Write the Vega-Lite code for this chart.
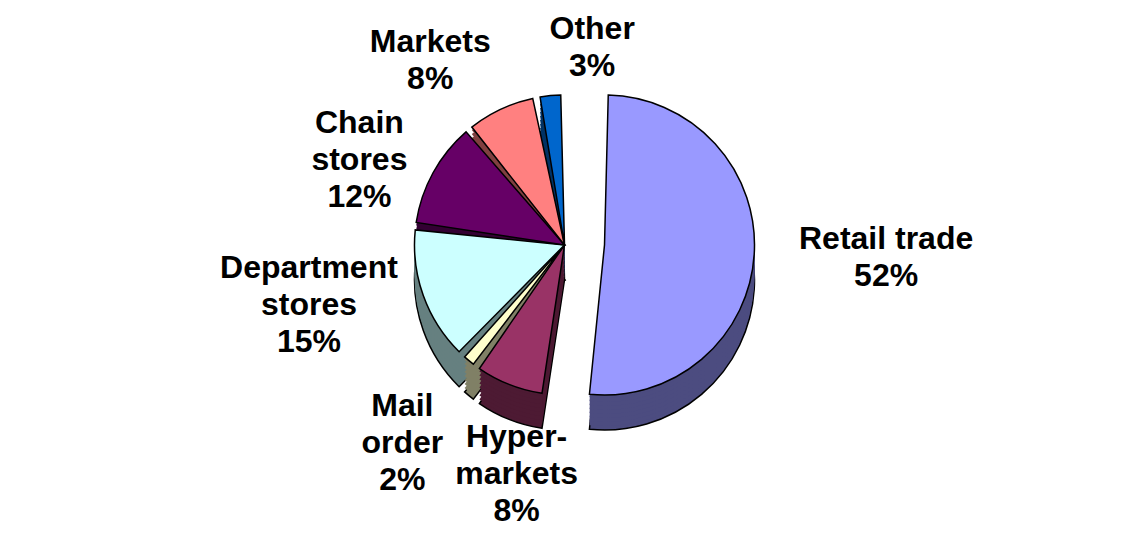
{
  "$schema": "https://vega.github.io/schema/vega-lite/v6.json",
  "width": 1129,
  "height": 550,
  "padding": 0,
  "autosize": {"type": "fit", "contains": "padding"},
  "background": "white",
  "config": {"view": {"stroke": null}},
  "data": {"values": [
    {"category": "Retail trade", "value": 52, "rank": 1, "label": "Retail trade\n52%"},
    {"category": "Hypermarkets", "value": 8, "rank": 2, "label": "Hyper-\nmarkets\n8%"},
    {"category": "Mail order", "value": 2, "rank": 3, "label": "Mail\norder\n2%"},
    {"category": "Department stores", "value": 15, "rank": 4, "label": "Department\nstores\n15%"},
    {"category": "Chain stores", "value": 12, "rank": 5, "label": "Chain\nstores\n12%"},
    {"category": "Markets", "value": 8, "rank": 6, "label": "Markets\n8%"},
    {"category": "Other", "value": 3, "rank": 7, "label": "Other\n3%"}
  ]},
  "encoding": {
    "theta": {"field": "value", "type": "quantitative", "stack": true},
    "order": {"field": "rank", "type": "quantitative"},
    "detail": {"field": "category", "type": "nominal"}
  },
  "layer": [
    {"mark": {"type": "arc", "radius": 150, "padAngle": 0.05, "stroke": "black", "strokeWidth": 1.5, "x": {"expr": "width/2 + (datum.category === 'Retail trade' ? 40 : 0)"}, "y": {"expr": "height/2 - 30 + 35"}},
     "encoding": {"fill": {"field": "category", "type": "nominal", "legend": null, "scale": {"domain": ["Retail trade", "Hypermarkets", "Mail order", "Department stores", "Chain stores", "Markets", "Other"], "range": ["#4C4C80", "#4D1A33", "#808066", "#668080", "#330033", "#804040", "#003366"]}}}},
    {"mark": {"type": "arc", "radius": 150, "padAngle": 0.05, "x": {"expr": "width/2 + (datum.category === 'Retail trade' ? 40 : 0)"}, "y": {"expr": "height/2 - 30 + 31"}},
     "encoding": {"fill": {"field": "category", "type": "nominal", "legend": null}}},
    {"mark": {"type": "arc", "radius": 150, "padAngle": 0.05, "x": {"expr": "width/2 + (datum.category === 'Retail trade' ? 40 : 0)"}, "y": {"expr": "height/2 - 30 + 27"}},
     "encoding": {"fill": {"field": "category", "type": "nominal", "legend": null}}},
    {"mark": {"type": "arc", "radius": 150, "padAngle": 0.05, "x": {"expr": "width/2 + (datum.category === 'Retail trade' ? 40 : 0)"}, "y": {"expr": "height/2 - 30 + 23"}},
     "encoding": {"fill": {"field": "category", "type": "nominal", "legend": null}}},
    {"mark": {"type": "arc", "radius": 150, "padAngle": 0.05, "x": {"expr": "width/2 + (datum.category === 'Retail trade' ? 40 : 0)"}, "y": {"expr": "height/2 - 30 + 19"}},
     "encoding": {"fill": {"field": "category", "type": "nominal", "legend": null}}},
    {"mark": {"type": "arc", "radius": 150, "padAngle": 0.05, "x": {"expr": "width/2 + (datum.category === 'Retail trade' ? 40 : 0)"}, "y": {"expr": "height/2 - 30 + 15"}},
     "encoding": {"fill": {"field": "category", "type": "nominal", "legend": null}}},
    {"mark": {"type": "arc", "radius": 150, "padAngle": 0.05, "x": {"expr": "width/2 + (datum.category === 'Retail trade' ? 40 : 0)"}, "y": {"expr": "height/2 - 30 + 11"}},
     "encoding": {"fill": {"field": "category", "type": "nominal", "legend": null}}},
    {"mark": {"type": "arc", "radius": 150, "padAngle": 0.05, "x": {"expr": "width/2 + (datum.category === 'Retail trade' ? 40 : 0)"}, "y": {"expr": "height/2 - 30 + 7"}},
     "encoding": {"fill": {"field": "category", "type": "nominal", "legend": null}}},
    {"mark": {"type": "arc", "radius": 150, "padAngle": 0.05, "x": {"expr": "width/2 + (datum.category === 'Retail trade' ? 40 : 0)"}, "y": {"expr": "height/2 - 30 + 3"}},
     "encoding": {"fill": {"field": "category", "type": "nominal", "legend": null}}},
    {"mark": {"type": "arc", "radius": 150, "padAngle": 0.05, "stroke": "black", "strokeWidth": 1.5, "x": {"expr": "width/2 + (datum.category === 'Retail trade' ? 40 : 0)"}, "y": {"expr": "height/2 - 30"}},
     "encoding": {"color": {"field": "category", "type": "nominal", "legend": null, "scale": {"domain": ["Retail trade", "Hypermarkets", "Mail order", "Department stores", "Chain stores", "Markets", "Other"], "range": ["#9999FF", "#993366", "#FFFFCC", "#CCFFFF", "#660066", "#FF8080", "#0066CC"]}}}},
    {"mark": {"type": "text", "radius": 195, "dx": 87, "dy": -18, "align": "center", "baseline": "middle", "lineBreak": "\n", "lineHeight": 37, "font": "Liberation Sans", "fontWeight": "bold", "fontSize": 32, "color": "black", "x": {"expr": "width/2 + 40"}, "y": {"expr": "height/2 - 30"}},
     "encoding": {"text": {"condition": {"test": "datum.category === 'Retail trade'", "field": "label"}, "value": ""}}},
    {"mark": {"type": "text", "radius": 163, "dx": 43, "dy": -37, "align": "center", "baseline": "bottom", "lineBreak": "\n", "lineHeight": 37, "font": "Liberation Sans", "fontWeight": "bold", "fontSize": 32, "color": "black", "y": {"expr": "height/2 - 30"}},
     "encoding": {"text": {"condition": {"test": "datum.category === 'Other'", "field": "label"}, "value": ""}}},
    {"mark": {"type": "text", "radius": 165, "dx": -64, "dy": -37, "align": "center", "baseline": "bottom", "lineBreak": "\n", "lineHeight": 37, "font": "Liberation Sans", "fontWeight": "bold", "fontSize": 32, "color": "black", "y": {"expr": "height/2 - 30"}},
     "encoding": {"text": {"condition": {"test": "datum.category === 'Markets'", "field": "label"}, "value": ""}}},
    {"mark": {"type": "text", "radius": 177, "dx": -50, "dy": -37, "align": "center", "baseline": "middle", "lineBreak": "\n", "lineHeight": 37, "font": "Liberation Sans", "fontWeight": "bold", "fontSize": 32, "color": "black", "y": {"expr": "height/2 - 30"}},
     "encoding": {"text": {"condition": {"test": "datum.category === 'Chain stores'", "field": "label"}, "value": ""}}},
    {"mark": {"type": "text", "radius": 177, "dx": -89, "dy": -37, "align": "center", "baseline": "middle", "lineBreak": "\n", "lineHeight": 37, "font": "Liberation Sans", "fontWeight": "bold", "fontSize": 32, "color": "black", "y": {"expr": "height/2 - 30"}},
     "encoding": {"text": {"condition": {"test": "datum.category === 'Department stores'", "field": "label"}, "value": ""}}},
    {"mark": {"type": "text", "radius": 190, "dx": -41, "align": "center", "baseline": "top", "lineBreak": "\n", "lineHeight": 37, "font": "Liberation Sans", "fontWeight": "bold", "fontSize": 32, "color": "black", "y": {"expr": "height/2 - 30"}},
     "encoding": {"text": {"condition": {"test": "datum.category === 'Mail order'", "field": "label"}, "value": ""}}},
    {"mark": {"type": "text", "radius": 190, "dx": 22, "align": "center", "baseline": "top", "lineBreak": "\n", "lineHeight": 37, "font": "Liberation Sans", "fontWeight": "bold", "fontSize": 32, "color": "black", "y": {"expr": "height/2 - 30"}},
     "encoding": {"text": {"condition": {"test": "datum.category === 'Hypermarkets'", "field": "label"}, "value": ""}}}
  ]
}
